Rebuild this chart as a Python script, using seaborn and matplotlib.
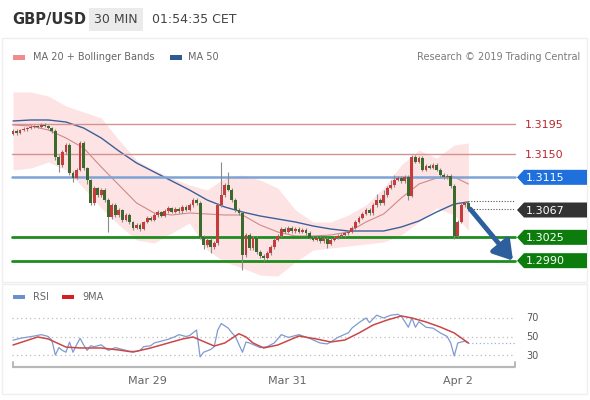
import numpy as np
import matplotlib
matplotlib.use("Agg")
import matplotlib.pyplot as plt
import matplotlib.transforms as mtransforms
from matplotlib.patches import Rectangle, Polygon
import seaborn as sns

# ---------------- data ----------------
symbol = "GBP/USD"
period = "30 MIN"
stamp = "01:54:35 CET"

opens = [
    1.3180, 1.31845, 1.31815, 1.3186, 1.31875, 1.3189, 1.31905, 1.3192, 1.31905, 1.31935,
    1.3192, 1.3189, 1.31845, 1.31455, 1.31335, 1.3153, 1.31635, 1.31215, 1.3114, 1.3126,
    1.31665, 1.3129, 1.3111, 1.30765, 1.3099, 1.30885, 1.3096, 1.3081, 1.30555, 1.30735,
    1.30585, 1.3066, 1.3051, 1.30585, 1.3048, 1.3039, 1.30435, 1.30375, 1.3048, 1.3054,
    1.3051, 1.30585, 1.3063, 1.3057, 1.30645, 1.3069, 1.3063, 1.30675, 1.30645, 1.30705,
    1.3066, 1.30735, 1.3081, 1.30765, 1.30255, 1.30135, 1.3021, 1.30105, 1.30165, 1.30735,
    1.30885, 1.31035, 1.3096, 1.3081, 1.3066, 1.30615, 1.29985, 1.30285, 1.3009, 1.3024,
    1.3003, 1.2997, 1.2994, 1.30015, 1.30105, 1.3021, 1.3027, 1.30375, 1.3033, 1.3039,
    1.30345, 1.30375, 1.3033, 1.3036, 1.30315, 1.3024, 1.3021, 1.3024, 1.30195, 1.30225,
    1.3015, 1.3021, 1.3024, 1.3027, 1.30285, 1.30315, 1.3033, 1.3039, 1.3048, 1.3054,
    1.3060, 1.3066, 1.30615, 1.30735, 1.3081, 1.30765, 1.30885, 1.3099, 1.31035, 1.3111,
    1.3114, 1.31095, 1.31155, 1.3087, 1.31455, 1.3138, 1.3144, 1.3126, 1.3132, 1.3129,
    1.31335, 1.3126, 1.31185, 1.31155, 1.3117, 1.3102, 1.3027, 1.3048, 1.30735, 1.30765,
]
closes = [
    1.31845, 1.31815, 1.3186, 1.31875, 1.3189, 1.31905, 1.3192, 1.31905, 1.31935, 1.3192,
    1.3189, 1.31845, 1.31455, 1.31335, 1.3153, 1.31635, 1.31215, 1.3114, 1.3126, 1.31665,
    1.3129, 1.3111, 1.30765, 1.3099, 1.30885, 1.3096, 1.3081, 1.30555, 1.30735, 1.30585,
    1.3066, 1.3051, 1.30585, 1.3048, 1.3039, 1.30435, 1.30375, 1.3048, 1.3054, 1.3051,
    1.30585, 1.3063, 1.3057, 1.30645, 1.3069, 1.3063, 1.30675, 1.30645, 1.30705, 1.3066,
    1.30735, 1.3081, 1.30765, 1.30255, 1.30135, 1.3021, 1.30105, 1.30165, 1.30735, 1.30885,
    1.31035, 1.3096, 1.3081, 1.3066, 1.30615, 1.29985, 1.30285, 1.3009, 1.3024, 1.3003,
    1.2997, 1.2994, 1.30015, 1.30105, 1.3021, 1.3027, 1.30375, 1.3033, 1.3039, 1.30345,
    1.30375, 1.3033, 1.3036, 1.30315, 1.3024, 1.3021, 1.3024, 1.30195, 1.30225, 1.3015,
    1.3021, 1.3024, 1.3027, 1.30285, 1.30315, 1.3033, 1.3039, 1.3048, 1.3054, 1.3060,
    1.3066, 1.30615, 1.30735, 1.3081, 1.30765, 1.30885, 1.3099, 1.31035, 1.3111, 1.3114,
    1.31095, 1.31155, 1.3087, 1.31455, 1.3138, 1.3144, 1.3126, 1.3132, 1.3129, 1.31335,
    1.3126, 1.31185, 1.31155, 1.3117, 1.3102, 1.3027, 1.3048, 1.30735, 1.30765, 1.30675,
]
highs = [
    1.3187, 1.3187, 1.3188, 1.3190, 1.3191, 1.3193, 1.3194, 1.3194, 1.3196, 1.3196,
    1.3194, 1.3191, 1.3187, 1.3148, 1.3156, 1.3167, 1.3166, 1.3124, 1.3129, 1.31695,
    1.3169, 1.3131, 1.3113, 1.3102, 1.3101, 1.3099, 1.3099, 1.3084, 1.3076, 1.3076,
    1.3069, 1.3068, 1.3061, 1.3061, 1.3050, 1.3046, 1.3046, 1.3050, 1.3057, 1.3057,
    1.3061, 1.3066, 1.3065, 1.3067, 1.3072, 1.3071, 1.3070, 1.3070, 1.3073, 1.3073,
    1.3076, 1.3084, 1.3084, 1.3079, 1.3028, 1.3024, 1.3024, 1.3019, 1.3076, 1.3138,
    1.3106, 1.3123, 1.3099, 1.3084, 1.3069, 1.3064, 1.3031, 1.3031, 1.3027, 1.3027,
    1.3006, 1.3000, 1.3004, 1.3013, 1.3024, 1.3030, 1.3040, 1.3040, 1.3042, 1.3042,
    1.3040, 1.3040, 1.3039, 1.3039, 1.3034, 1.3027, 1.3027, 1.3027, 1.3025, 1.3025,
    1.3024, 1.3027, 1.3030, 1.3031, 1.3034, 1.3036, 1.3042, 1.3051, 1.3057, 1.3063,
    1.3069, 1.3069, 1.3076, 1.3090, 1.3084, 1.3096, 1.3102, 1.3111, 1.3118, 1.3117,
    1.3117, 1.3119, 1.3118, 1.31485, 1.3148, 1.3147, 1.3147, 1.3135, 1.3135, 1.3137,
    1.3136, 1.3129, 1.3121, 1.3120, 1.3120, 1.3105, 1.3051, 1.3076, 1.30795, 1.3079,
]
lows = [
    1.3178, 1.3179, 1.3180, 1.3184, 1.3185, 1.3187, 1.3189, 1.3189, 1.3189, 1.3190,
    1.3187, 1.3181, 1.3141, 1.3123, 1.3131, 1.3150, 1.3119, 1.3108, 1.3112, 1.3124,
    1.3126, 1.3105, 1.3074, 1.3074, 1.3086, 1.3086, 1.3078, 1.3033, 1.3053, 1.3056,
    1.3056, 1.3048, 1.3049, 1.3045, 1.3036, 1.3037, 1.30345, 1.3036, 1.3046, 1.3049,
    1.3049, 1.3056, 1.3055, 1.3055, 1.3062, 1.3061, 1.3061, 1.3062, 1.3062, 1.3064,
    1.3064, 1.3071, 1.3074, 1.3023, 1.3008, 1.3011, 1.30015, 1.3008, 1.3014, 1.3071,
    1.3086, 1.3094, 1.3078, 1.3063, 1.3059, 1.2976, 1.2996, 1.3006, 1.3006, 1.3000,
    1.2994, 1.29895, 1.2992, 1.2999, 1.3008, 1.3019, 1.3025, 1.3031, 1.3031, 1.3032,
    1.3032, 1.3031, 1.3031, 1.3029, 1.3022, 1.3019, 1.3019, 1.3017, 1.3017, 1.3009,
    1.3013, 1.3019, 1.3022, 1.3025, 1.3026, 1.3029, 1.3031, 1.3037, 1.3046, 1.3052,
    1.3058, 1.3059, 1.3059, 1.3071, 1.3074, 1.3074, 1.3086, 1.3097, 1.3101, 1.3109,
    1.3107, 1.3107, 1.3081, 1.3085, 1.3136, 1.3136, 1.3124, 1.3124, 1.3127, 1.3127,
    1.3124, 1.3116, 1.3113, 1.3113, 1.3099, 1.30225, 1.3025, 1.3046, 1.3071, 1.3065,
]

# indicator lines, read at every 5th candle (and the last one)
ind_idx = [0, 5, 10, 15, 20, 25, 30, 35, 40, 45, 50, 55, 60, 65, 70, 75, 80, 85,
           90, 95, 100, 105, 110, 115, 120, 125, 129]
ma50 = [1.31995, 1.3201, 1.3201, 1.3198, 1.3189, 1.3174, 1.31545, 1.31365, 1.3123,
        1.31095, 1.3096, 1.3081, 1.30705, 1.3063, 1.3057, 1.30525, 1.3048, 1.3042,
        1.30375, 1.30345, 1.30345, 1.30345, 1.30405, 1.30495, 1.3063, 1.3075, 1.3078]
ma20 = [1.31935, 1.3192, 1.3186, 1.3174, 1.3159, 1.31305, 1.31035, 1.30765, 1.30615,
        1.30585, 1.30615, 1.3060, 1.30585, 1.30585, 1.30435, 1.3033, 1.3027, 1.3027,
        1.30285, 1.3033, 1.3048, 1.3060, 1.3084, 1.3105, 1.3114, 1.31155, 1.3105]
bb_up = [1.3243, 1.3243, 1.3237, 1.3222, 1.3213, 1.3204, 1.3171, 1.3141, 1.3126,
         1.3114, 1.31035, 1.3096, 1.3114, 1.31185, 1.3111, 1.3099, 1.3066, 1.3048,
         1.3048, 1.30585, 1.30735, 1.3099, 1.31335, 1.3156, 1.3144, 1.31635, 1.31665]
bb_lo = [1.3126, 1.3129, 1.3138, 1.3126, 1.3099, 1.3069, 1.30435, 1.3021, 1.30165,
         1.30315, 1.30465, 1.3006, 1.2988, 1.2979, 1.29685, 1.2967, 1.2988, 1.3006,
         1.3009, 1.3012, 1.3015, 1.3018, 1.30285, 1.3048, 1.3069, 1.30585, 1.3036]

resistances = [1.3195, 1.3150]
pivot = 1.3115
supports = [1.3025, 1.2990]
last_label = "1.3067"

rsi_idx = [0, 2, 6, 8, 10, 11, 12, 13, 14, 15, 16, 17, 18, 19, 20, 21, 22, 23, 25, 26,
           27, 29, 30, 32, 33, 35, 36, 37, 39, 40, 42, 43, 44, 46, 47, 49, 50, 51, 52, 53,
           54, 56, 57, 58, 59, 61, 62, 63, 65, 66, 67, 70, 72, 74, 76, 78, 81, 84, 87, 89,
           90, 92, 95, 96, 98, 100, 101, 103, 105, 107, 109, 110, 112, 113, 114, 115, 117,
           119, 121, 122, 123, 124, 125, 126, 127, 128, 129]
rsi_val = [46, 48, 50.5, 52, 50, 46, 30, 38, 35, 33, 44, 33, 41, 48, 41, 35, 40, 39, 41, 38,
           35, 38, 37, 35, 34, 34, 35, 39, 40, 43, 45, 46, 47, 50, 52, 50, 51, 54, 57, 28,
           33, 36, 39, 57, 64, 59, 54, 50, 33, 44, 43, 38, 39, 43, 52, 49, 52, 48, 43, 42,
           44, 49, 54, 59, 65, 70, 65, 73, 70, 73, 74, 72, 60, 70, 60, 66, 60,
           59, 54, 52, 50, 43, 29, 43, 44, 45, 43]
ma9_idx = [0, 7, 10, 15, 19, 25, 30, 34, 39, 44, 48, 51, 53, 57, 60, 64, 66, 68, 71, 75,
           81, 86, 90, 94, 98, 102, 106, 110, 113, 117, 121, 125, 129]
ma9_val = [40.8, 49.5, 47.3, 38.6, 37.6, 37.6, 35.4, 33.2, 37.6, 43, 47.3, 49.5, 46.2, 39.7,
           43, 53, 49.5, 43, 37.6, 40.8, 50.5, 47.3, 44.1, 46.2, 53.8, 62.4, 67.8, 72.2, 70,
           65.7, 60.3, 53.8, 43]
rsi_levels = [70, 50, 30]

tick_pos = [38, 77.6, 126]
tick_labels = ["Mar 29", "Mar 31", "Apr 2"]

# ---------------- styling / layout ----------------
sns.set_theme(style="white")
plt.rcParams['font.family'] = ['DejaVu Sans']

W, H = 590, 400
fig = plt.figure(figsize=(W / 100, H / 100), dpi=100)
fig.patch.set_facecolor('white')

ax0 = fig.add_axes([0, 0, 1, 1])
ax0.set_xlim(0, W)
ax0.set_ylim(H, 0)
ax0.axis('off')


def box(x0, y0, x1, y1):
    return [x0 / W, 1 - y1 / H, (x1 - x0) / W, (y1 - y0) / H]


axp = fig.add_axes(box(0, 75, W, 282))
axr = fig.add_axes(box(0, 283, W, 395))
STEP = 3.53
for a in (axp, axr):
    a.set_facecolor('none')
    a.axis('off')
    a.set_xlim(-13 / STEP, (W - 13) / STEP)
axp.set_ylim(1.2958, 1.32685)
axr.set_ylim(-13.2, 107.8)

XL, XR = 12 / W, 515 / W
tp = mtransforms.blended_transform_factory(axp.transAxes, axp.transData)
tr = mtransforms.blended_transform_factory(axr.transAxes, axr.transData)


def ypx(ax, v):
    return H - ax.transData.transform((0, v))[1]


def xpx(ax, i):
    return ax.transData.transform((i, 0))[0]


# frames
ax0.add_patch(Rectangle((2, 38), 585, 244, fill=False, ec='#efefef', lw=1))
ax0.add_patch(Rectangle((2, 284), 585, 110, fill=False, ec='#efefef', lw=1))

# header
ax0.text(12, 19.5, symbol, fontsize=10.5, fontweight='bold', color='#333333', va='center')
ax0.add_patch(Rectangle((89, 8), 54, 23, color='#ebebeb', lw=0))
ax0.text(116, 19.5, period, fontsize=9, color='#444444', va='center', ha='center')
ax0.text(152, 19.5, stamp, fontsize=9, color='#444444', va='center')

# legend
ax0.add_patch(Rectangle((13, 55), 12, 5, color='#f08c8c', lw=0))
ax0.text(33, 57.5, "MA 20 + Bollinger Bands", fontsize=7, color='#666666', va='center')
ax0.add_patch(Rectangle((170, 55), 12, 5, color='#2f5a96', lw=0))
ax0.text(188, 57.5, "MA 50", fontsize=7, color='#666666', va='center')
ax0.text(580, 57.5, "Research \u00a9 2019 Trading Central", fontsize=7, color='#7a7a7a',
         va='center', ha='right')

# Bollinger band + MAs
axp.fill_between(ind_idx, bb_lo, bb_up, color='#fde3e3', lw=0, zorder=1)
sns.lineplot(x=ind_idx, y=ma20, ax=axp, color='#cf8a8a', lw=0.8, legend=False, zorder=2)
sns.lineplot(x=ind_idx, y=ma50, ax=axp, color='#3c5f9a', lw=1.0, legend=False, zorder=2)

# horizontal levels
for lv in resistances:
    axp.plot([XL, XR], [lv, lv], transform=tp, color='#d49292', lw=1.0, zorder=2)
axp.plot([XL, XR], [pivot, pivot], transform=tp, color='#7ea3d6', lw=1.8, zorder=2)
for lv in supports:
    axp.plot([XL, XR], [lv, lv], transform=tp, color='#1f8c1f', lw=2.0, zorder=2)

# candles
idx = np.arange(len(closes))
o = np.array(opens)
c = np.array(closes)
up = c >= o
lo_b = np.minimum(o, c)
h_b = np.maximum(np.abs(c - o), 0.00009)
axp.vlines(idx, lows, highs, color='#8a8a8a', lw=0.8, zorder=3)
axp.bar(idx[up], h_b[up], bottom=lo_b[up], width=0.8, color='#c63b3b', lw=0, zorder=4)
axp.bar(idx[~up], h_b[~up], bottom=lo_b[~up], width=0.8, color='#3b6a2c', lw=0, zorder=4)

# last price dotted guides
x_end = axp.transData.inverted().transform(axp.transAxes.transform((XR, 0)))[0]
axp.plot([idx[-1], x_end], [highs[-1], highs[-1]], color='#555555', lw=0.8,
         ls=(0, (1, 1.5)), zorder=3)
axp.plot([idx[-1], x_end], [closes[-1], closes[-1]], color='#555555', lw=0.8,
         ls=(0, (1, 1.5)), zorder=3)

# forecast arrow
axp.annotate('', xy=(513 / W, supports[1]), xycoords=tp,
             xytext=(idx[-1] + 0.5, closes[-1]), textcoords='data',
             arrowprops=dict(arrowstyle='-|>,head_length=0.8,head_width=0.5',
                             color='#2d5f9c', lw=3.5, shrinkA=0, shrinkB=0,
                             mutation_scale=14), zorder=6)

# right labels
for lv in resistances:
    ax0.text(525, ypx(axp, lv) + 0.5, f"{lv:.4f}", fontsize=8, color='#b8282e', va='center')


def tag(y, color, text):
    pts = [(517, y), (524, y - 7.5), (587, y - 7.5), (587, y + 7.5), (524, y + 7.5)]
    ax0.add_patch(Polygon(pts, closed=True, color=color, lw=0, zorder=5))
    ax0.text(526, y + 0.5, text, fontsize=8, color='white', va='center', zorder=6)


tag(ypx(axp, pivot), '#1f6fdc', f"{pivot:.4f}")
tag(ypx(axp, closes[-1]) + 1, '#333333', last_label)
for lv in supports:
    tag(ypx(axp, lv), '#0c7d0c', f"{lv:.4f}")

# ---------------- RSI panel ----------------
ax0.add_patch(Rectangle((13, 295), 12, 4, color='#6a8fd0', lw=0))
ax0.text(33, 297, "RSI", fontsize=7, color='#666666', va='center')
ax0.add_patch(Rectangle((62, 295), 12, 4, color='#d42020', lw=0))
ax0.text(82, 297, "9MA", fontsize=7, color='#666666', va='center')

for lv in rsi_levels:
    axr.plot([XL, XR], [lv, lv], transform=tr, color='#bdbdbd', lw=0.9, ls=(0, (1, 2.5)))
    ax0.text(526, ypx(axr, lv) + 0.5, str(lv), fontsize=7, color='#555555', va='center')

sns.lineplot(x=rsi_idx, y=rsi_val, ax=axr, color='#7d9bd0', lw=0.9, legend=False, zorder=3)
sns.lineplot(x=ma9_idx, y=ma9_val, ax=axr, color='#cc4646', lw=1.1, legend=False, zorder=4)
x_end_r = axr.transData.inverted().transform(axr.transAxes.transform((XR, 0)))[0]
axr.plot([rsi_idx[-1], x_end_r], [rsi_val[-1], rsi_val[-1]], color='#9db3db', lw=0.9,
         ls=(0, (1, 2)))

# time axis
ax0.plot([12, 515], [367, 367], color='#b8b8b8', lw=1.6, solid_capstyle='butt')
ax0.plot([12.5, 12.5], [362, 367], color='#b8b8b8', lw=1.4)
ax0.plot([514.5, 514.5], [362, 367], color='#b8b8b8', lw=1.4)
for pos, lab in zip(tick_pos, tick_labels):
    ax0.text(xpx(axr, pos), 381, lab, fontsize=8, color='#666666', ha='center', va='center')

fig.savefig("out.png", dpi=100, facecolor='white')
